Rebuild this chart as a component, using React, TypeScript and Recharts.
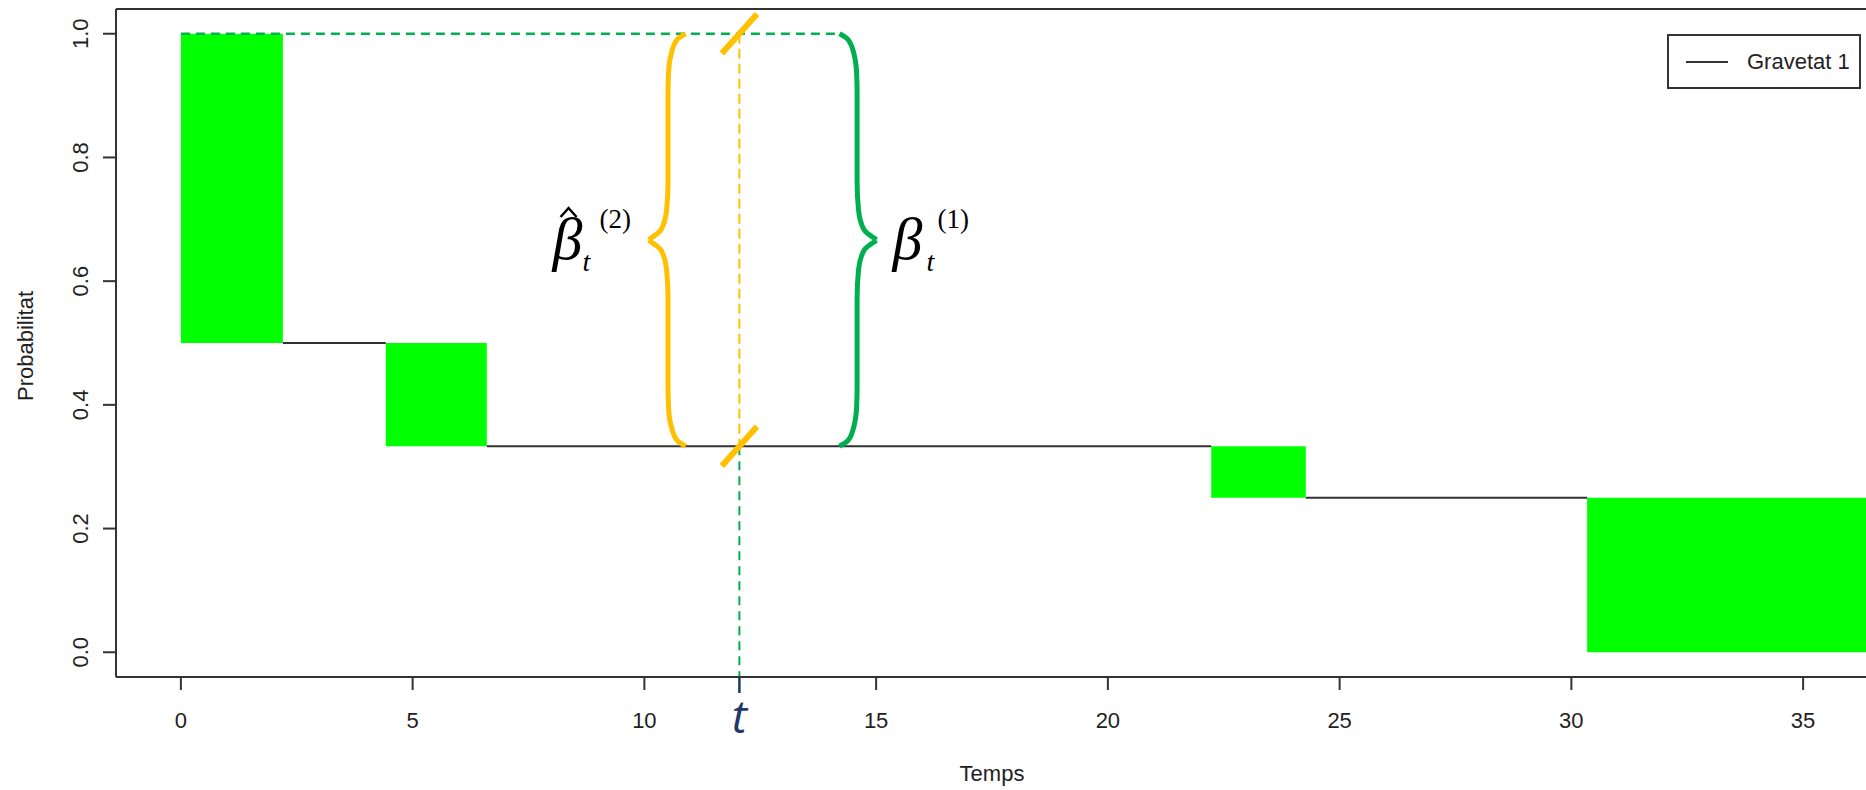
import React from "react";
import { ComposedChart, Line, XAxis, YAxis, ReferenceArea, ReferenceLine, ReferenceDot, Legend } from "recharts";

// axis ticks
const xTicks = [0, 5, 10, 15, 20, 25, 30, 35];
const yTicks = [0, 0.2, 0.4, 0.6, 0.8, 1.0];

// green blocks: time span of each drop and the levels before/after it
const jumpStart = [0, 4.42, 22.23, 30.34];
const jumpEnd = [2.2, 6.6, 24.27, 36.4];
const levelBefore = [1.0, 0.5, 0.333, 0.25];
const levelAfter = [0.5, 0.333, 0.25, 0.0];

// annotation values
const tMark = 12.05;
const bracketTop = 1.0;
const bracketBottom = 0.333;
const orangeBraceX = 10.51;
const greenBraceX = 14.59;
const greenDashEnd = 14.22;

// upper half of a curly brace: offset from its stem and height
const braceUpper = [
  { dx: 0.38, y: 1.0 },
  { dx: 0.2, y: 0.991 },
  { dx: 0.07, y: 0.968 },
  { dx: 0.01, y: 0.935 },
  { dx: 0.0, y: 0.9 },
  { dx: 0.0, y: 0.76 },
  { dx: -0.03, y: 0.715 },
  { dx: -0.15, y: 0.683 },
  { dx: -0.42, y: 0.667 },
];

const FONT = "'Liberation Sans', Arial, sans-serif";
const SERIF = "'Liberation Serif', 'Times New Roman', serif";

// black step segments between the green blocks
const stepData: { x: number; y: number | null }[] = [];
for (let i = 0; i < jumpStart.length - 1; i++) {
  stepData.push({ x: jumpEnd[i], y: levelAfter[i] });
  stepData.push({ x: jumpStart[i + 1], y: levelBefore[i + 1] });
  if (i < jumpStart.length - 2) {
    stepData.push({ x: (jumpStart[i + 1] + jumpEnd[i + 1]) / 2, y: null });
  }
}

function brace(xc: number, dir: number) {
  const mid = bracketTop + bracketBottom;
  const upper = braceUpper.map((p) => ({ x: xc + dir * p.dx, y: p.y }));
  const lower = [...braceUpper].reverse().map((p) => ({ x: xc + dir * p.dx, y: mid - p.y }));
  return { upper, lower };
}

const orangeBrace = brace(orangeBraceX, 1);
const greenBrace = brace(greenBraceX, -1);

const YTick = (props: any) => {
  const { x, y, payload } = props;
  return (
    <text
      x={x}
      y={y}
      transform={`rotate(-90 ${x} ${y})`}
      textAnchor="middle"
      fontSize={22}
      fontFamily={FONT}
      fill="#222"
    >
      {Number(payload.value).toFixed(1)}
    </text>
  );
};

const xLabel = (props: any) => {
  const vb = props.viewBox;
  return (
    <text x={vb.x + vb.width / 2} y={vb.y + vb.height - 9} textAnchor="middle" fontSize={22} fontFamily={FONT} fill="#222">
      Temps
    </text>
  );
};

const yLabel = (props: any) => {
  const vb = props.viewBox;
  const cy = vb.y + vb.height / 2 + 3;
  return (
    <text x={33} y={cy} transform={`rotate(-90 33 ${cy})`} textAnchor="middle" fontSize={22} fontFamily={FONT} fill="#222">
      Probabilitat
    </text>
  );
};

const TMarkShape = (props: any) => {
  const { cx, cy } = props;
  return (
    <g>
      <line x1={cx} y1={cy + 1} x2={cx} y2={cy + 16} stroke="#1F3864" strokeWidth={2.5} />
      <text x={cx} y={cy + 56} textAnchor="middle" fontSize={46} fontStyle="italic" fontFamily="'Open Sans', 'Noto Sans', sans-serif" fill="#1F3864">
        t
      </text>
    </g>
  );
};

const BetaHat = (props: any) => {
  const { cx, cy } = props;
  return (
    <g fill="#000" fontFamily={SERIF} fontStyle="italic">
      <text x={cx - 96} y={cy + 19} fontSize={60}>β</text>
      <path d={`M ${cx - 88} ${cy - 23} L ${cx - 80} ${cy - 32} L ${cx - 72} ${cy - 23}`} stroke="#000" strokeWidth={2.5} fill="none" />
      <text x={cx - 66} y={cy + 31} fontSize={28}>t</text>
      <text x={cx - 49} y={cy - 12} fontSize={27} fontStyle="normal">(2)</text>
    </g>
  );
};

const Beta = (props: any) => {
  const { cx, cy } = props;
  return (
    <g fill="#000" fontFamily={SERIF} fontStyle="italic">
      <text x={cx + 16} y={cy + 19} fontSize={60}>β</text>
      <text x={cx + 50} y={cy + 31} fontSize={28}>t</text>
      <text x={cx + 61} y={cy - 12} fontSize={27} fontStyle="normal">(1)</text>
    </g>
  );
};

const renderLegend = () => (
  <div
    style={{
      boxSizing: "border-box",
      width: 194,
      height: 55,
      border: "2px solid #333",
      background: "#fff",
      display: "flex",
      alignItems: "center",
      fontFamily: FONT,
      fontSize: 22,
      color: "#222",
    }}
  >
    <span style={{ display: "inline-block", width: 42, borderTop: "2px solid #333", marginLeft: 17 }} />
    <span style={{ marginLeft: 19 }}>Gravetat 1</span>
  </div>
);

const lineProps = {
  dataKey: "y",
  dot: false,
  activeDot: false,
  isAnimationActive: false,
  legendType: "none" as const,
};

export default function App() {
  return (
    <div style={{ position: "absolute", left: 0, top: 0, width: 1866, height: 790, overflow: "hidden", background: "#fff" }}>
      <ComposedChart width={1868} height={790} margin={{ top: 9, right: 0, bottom: 0, left: 0 }}>
        <XAxis
          type="number"
          dataKey="x"
          domain={[-1.4, 36.4]}
          allowDataOverflow
          ticks={xTicks}
          interval={0}
          height={113}
          tickSize={13}
          tickMargin={22}
          axisLine={{ stroke: "#333", strokeWidth: 2 }}
          tickLine={{ stroke: "#333", strokeWidth: 2 }}
          tick={{ fontSize: 22, fill: "#222", fontFamily: FONT }}
          label={xLabel}
        />
        <YAxis
          type="number"
          domain={[-0.04, 1.04]}
          allowDataOverflow
          ticks={yTicks}
          interval={0}
          width={116}
          tickSize={13}
          tickMargin={15}
          axisLine={{ stroke: "#333", strokeWidth: 2 }}
          tickLine={{ stroke: "#333", strokeWidth: 2 }}
          tick={YTick}
          label={yLabel}
        />

        {jumpStart.map((s, i) => (
          <ReferenceArea
            key={"blk" + i}
            x1={s}
            x2={jumpEnd[i]}
            y1={levelAfter[i]}
            y2={levelBefore[i]}
            fill="#00FF00"
            fillOpacity={1}
            stroke="none"
          />
        ))}

        <ReferenceLine y={1.04} stroke="#333" strokeWidth={2} />

        <Line
          data={stepData}
          dataKey="y"
          name="Gravetat 1"
          type="linear"
          stroke="#333"
          strokeWidth={2}
          dot={false}
          activeDot={false}
          connectNulls={false}
          isAnimationActive={false}
        />

        <ReferenceLine
          segment={[{ x: 0, y: bracketTop }, { x: greenDashEnd, y: bracketTop }]}
          stroke="#00B050"
          strokeWidth={2.5}
          strokeDasharray="9 6"
        />
        <ReferenceLine
          segment={[{ x: tMark, y: bracketTop }, { x: tMark, y: bracketBottom }]}
          stroke="#FFC000"
          strokeWidth={2}
          strokeDasharray="10 5"
        />
        <ReferenceLine
          segment={[{ x: tMark, y: bracketBottom }, { x: tMark, y: -0.04 }]}
          stroke="#00B050"
          strokeWidth={2}
          strokeDasharray="9 6"
        />

        <Line {...lineProps} data={orangeBrace.upper} type="monotoneY" stroke="#FFC000" strokeWidth={5} />
        <Line {...lineProps} data={orangeBrace.lower} type="monotoneY" stroke="#FFC000" strokeWidth={5} />
        <Line {...lineProps} data={greenBrace.upper} type="monotoneY" stroke="#00B050" strokeWidth={5} />
        <Line {...lineProps} data={greenBrace.lower} type="monotoneY" stroke="#00B050" strokeWidth={5} />

        <ReferenceLine
          segment={[{ x: tMark - 0.38, y: bracketTop - 0.032 }, { x: tMark + 0.38, y: bracketTop + 0.032 }]}
          stroke="#FFC000"
          strokeWidth={6}
        />
        <ReferenceLine
          segment={[{ x: tMark - 0.38, y: bracketBottom - 0.032 }, { x: tMark + 0.38, y: bracketBottom + 0.032 }]}
          stroke="#FFC000"
          strokeWidth={6}
        />

        <ReferenceDot x={orangeBraceX - 0.42} y={(bracketTop + bracketBottom) / 2} r={1} shape={BetaHat} />
        <ReferenceDot x={greenBraceX + 0.42} y={(bracketTop + bracketBottom) / 2} r={1} shape={Beta} />
        <ReferenceDot x={tMark} y={-0.04} r={1} shape={TMarkShape} />

        <Legend
          layout="vertical"
          align="center"
          verticalAlign="middle"
          wrapperStyle={{ left: 1667, top: 34, width: 194, height: 55 }}
          content={renderLegend}
        />
      </ComposedChart>
    </div>
  );
}
